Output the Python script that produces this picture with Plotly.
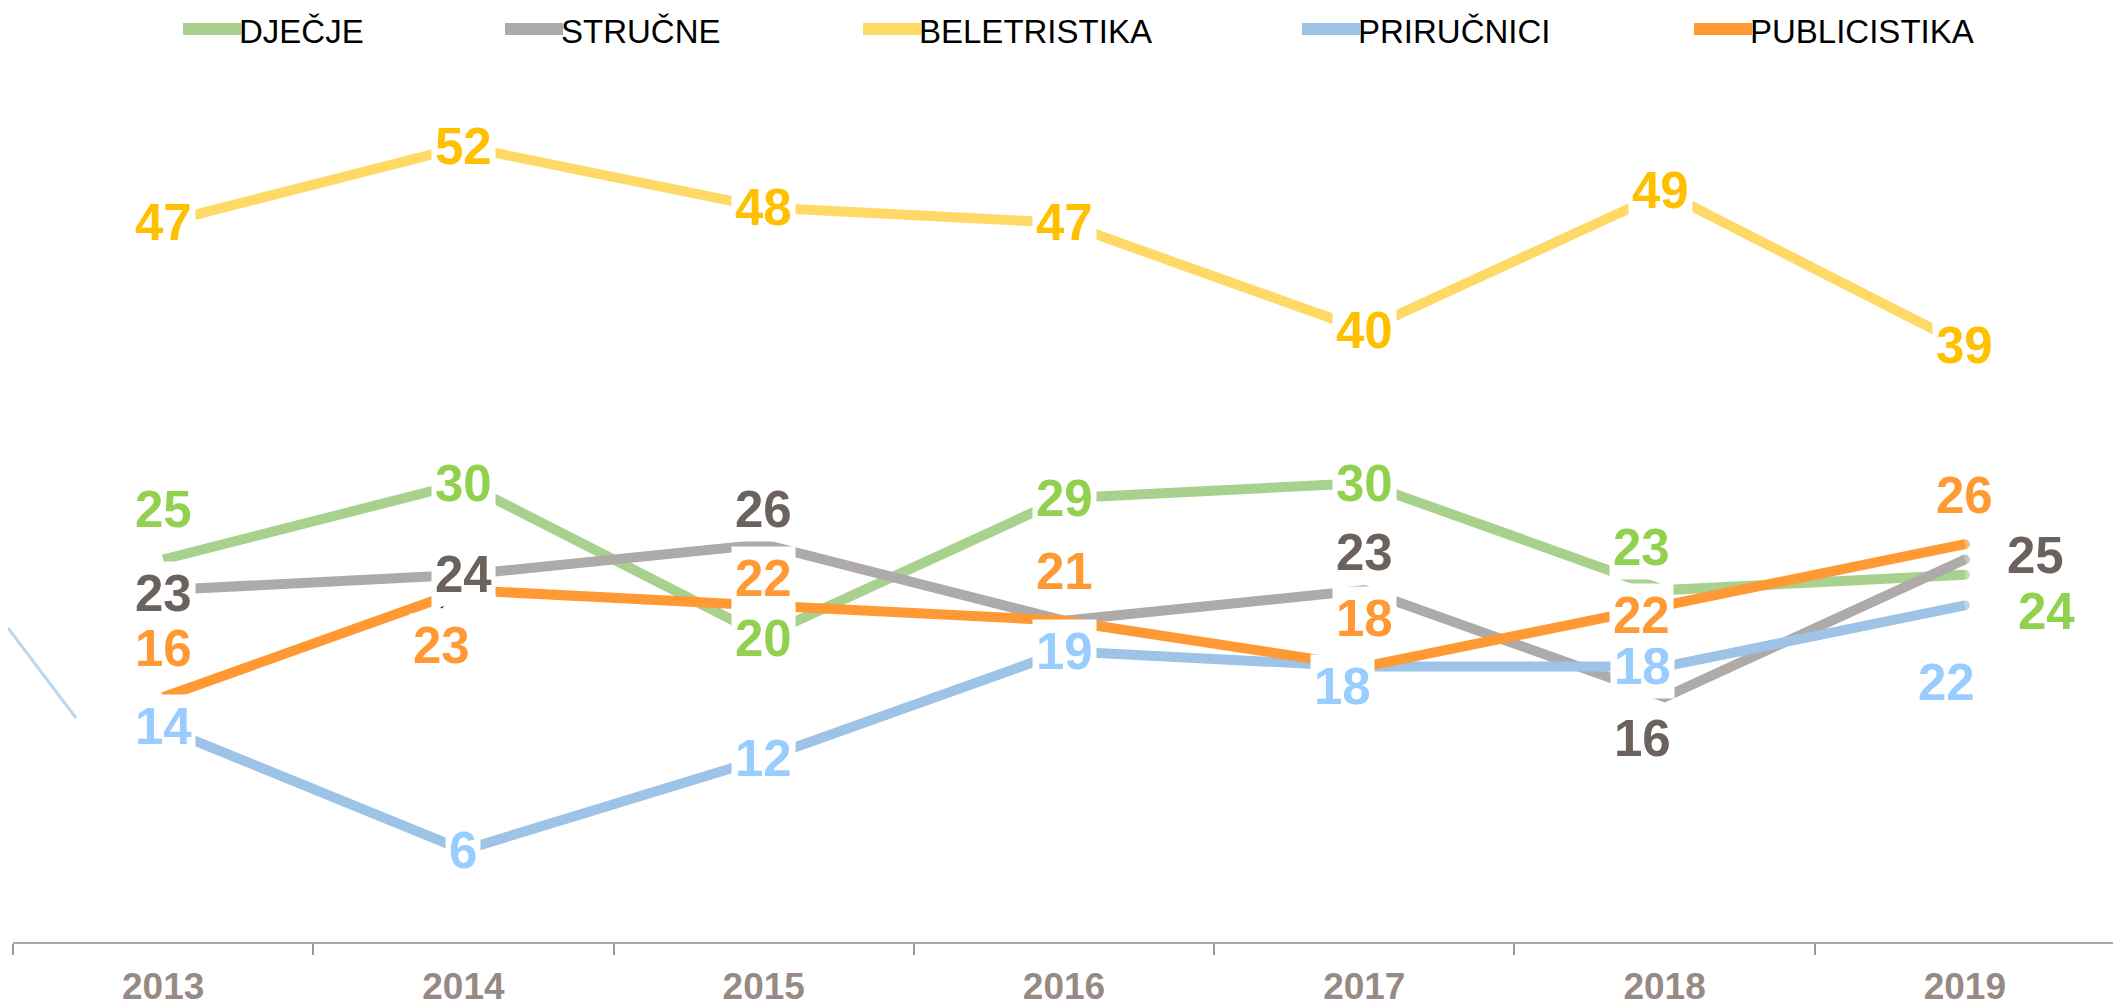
import plotly.graph_objects as go

# ---- data ----
years = ["2013", "2014", "2015", "2016", "2017", "2018", "2019"]
series_names = ["DJEČJE", "STRUČNE", "BELETRISTIKA", "PRIRUČNICI", "PUBLICISTIKA"]
djecje = [25, 30, 20, 29, 30, 23, 24]
strucne = [23, 24, 26, 21, 23, 16, 25]
beletristika = [47, 52, 48, 47, 40, 49, 39]
prirucnici = [14, 6, 12, 19, 18, 18, 22]
publicistika = [16, 23, 22, 21, 18, 22, 26]
values = [djecje, strucne, beletristika, prirucnici, publicistika]

# ---- styles ----
line_colors = ["#A9D18E", "#AEAAAA", "#FFD966", "#9DC3E6", "#FF9933"]
label_colors = ["#92D050", "#6B625E", "#FFC000", "#99CCFF", "#FF9933"]
# label offsets in px (xshift, yshift); None = no label shown
label_offsets = [
    [(0, 50), (0, 0), (0, -2), (0, 0), (0, 0), (-23, 43), (82, -37)],
    [(0, -3), (0, 0), (0, 35), None, (0, 38), (-22, -41), (71, 4)],
    [(0, 0), (0, 0), (0, 0), (0, 0), (0, 0), (-4, 2), (0, 0)],
    [(0, 1), (0, 0), (0, 0), (0, 0), (-22, -20), (-22, 0), (-18, -77)],
    [(0, 49), (-22, -55), (0, 27), (0, 49), (0, 48), (-23, -10), (0, 49)],
]

# the page body has an 8px margin; the figure is shifted by it
OFF = 8
W, H = 2121 - OFF, 1005
# plot area in window pixels: x 13..2115, y 24..942
L = 13 - OFF
R = W - (2115 - OFF)
T = 24 - OFF
B = H - (942 - OFF)
PW = W - L - R
PH = H - T - B


def px_x(px):  # window px -> paper
    return (px - OFF - L) / PW


def px_y(py):  # window px -> paper
    return (H - B - (py - OFF)) / PH


fig = go.Figure()
for name, vals, lc in zip(series_names, values, line_colors):
    fig.add_trace(go.Scatter(
        x=years, y=vals, name=name, mode="lines+markers",
        line=dict(color=lc, width=10),
        marker=dict(size=[0] * (len(vals) - 1) + [10], color=lc, line=dict(width=0)),
        showlegend=False, hoverinfo="skip",
    ))

annotations = []
for vals, col, offs in zip(values, label_colors, label_offsets):
    for i, (v, off) in enumerate(zip(vals, offs)):
        if off is None:
            continue
        annotations.append(dict(
            x=i, y=v, xref="x", yref="y", text=str(v), showarrow=False,
            xshift=off[0], yshift=off[1],
            font=dict(family="Liberation Sans", size=51, color=col, weight="bold"),
            bgcolor="white", borderpad=3,
        ))

# manual legend
legend_swatch_px = [183, 505, 863, 1302, 1694]
legend_swatch_y_px = 29
legend_text_y_px = 31
shapes = []
for name, lc, sx in zip(series_names, line_colors, legend_swatch_px):
    shapes.append(dict(type="line", xref="paper", yref="paper",
                       x0=px_x(sx), x1=px_x(sx + 58),
                       y0=px_y(legend_swatch_y_px), y1=px_y(legend_swatch_y_px),
                       line=dict(color=lc, width=12)))
    annotations.append(dict(x=px_x(sx + 54), y=px_y(legend_text_y_px), xref="paper", yref="paper",
                            text=name, showarrow=False, xanchor="left", yanchor="middle",
                            font=dict(family="Liberation Sans", size=33, color="black")))

# stray marks present in the original picture
shapes.append(dict(type="line", xref="paper", yref="paper",
                   x0=px_x(OFF), y0=px_y(628), x1=px_x(76), y1=px_y(718),
                   line=dict(color="#BDD7EE", width=3)))
shapes.append(dict(type="line", xref="paper", yref="paper",
                   x0=px_x(441), y0=px_y(608), x1=px_x(463), y1=px_y(590),
                   line=dict(color="black", width=1.5), layer="above"))

fig.update_layout(
    width=W, height=H,
    margin=dict(l=L, r=R, t=T, b=B, autoexpand=False),
    paper_bgcolor="white", plot_bgcolor="white",
    showlegend=False,
    annotations=annotations,
    shapes=shapes,
    xaxis=dict(
        type="category", range=[-0.5, 6.5], showgrid=False, zeroline=False,
        automargin=False,
        showline=True, linecolor="#A6A6A6", linewidth=2,
        ticks="outside", tickson="boundaries", ticklen=11, tickwidth=2, tickcolor="#999999",
        tickfont=dict(family="Liberation Sans", size=37, color="#978A84", weight="bold"),
        ticklabelstandoff=11,
    ),
    yaxis=dict(range=[0, 60], visible=False, showgrid=False, zeroline=False, automargin=False),
)

fig.write_html("out.html")
